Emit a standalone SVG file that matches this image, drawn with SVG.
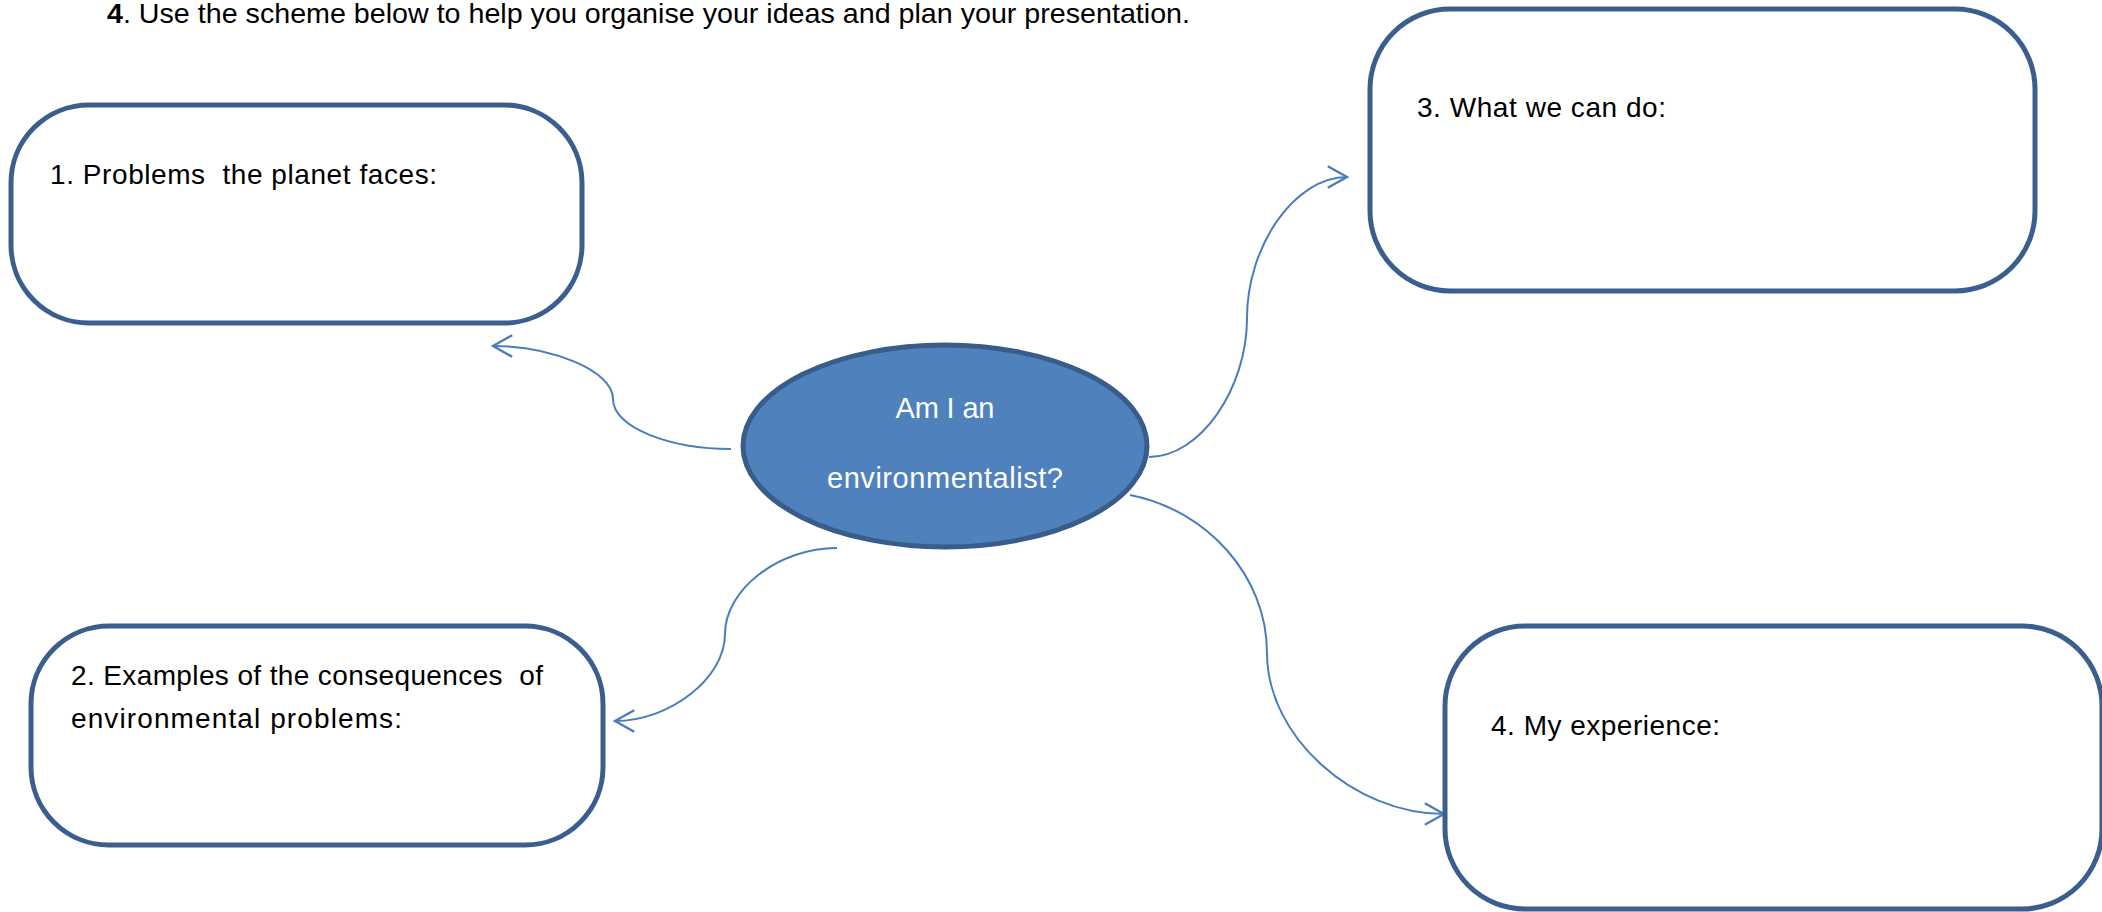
<svg xmlns="http://www.w3.org/2000/svg" width="2102" height="912" viewBox="0 0 2102 912">
<style>
.box{fill:#ffffff;stroke:#3A5F8E;stroke-width:5}
.lbl{font-family:"Liberation Sans",Arial,sans-serif;font-size:28px;fill:#000;white-space:pre}
.title{font-family:"Liberation Sans",Arial,sans-serif;font-size:28px;fill:#000}
.ctr{font-family:"Liberation Sans",Arial,sans-serif;font-size:29px;fill:#fff;text-anchor:middle}
.conn{fill:none;stroke:#4A7EBB;stroke-width:2;marker-end:url(#arr)}
</style>
<defs>
<marker id="arr" markerUnits="userSpaceOnUse" markerWidth="24" markerHeight="24" refX="18" refY="10" orient="auto" viewBox="0 0 20 20">
<path d="M2,1 L18,10 L2,19" fill="none" stroke="#4A7EBB" stroke-width="2"/>
</marker>
</defs>
<rect width="2102" height="912" fill="#ffffff"/>
<text class="title" x="107" y="23" textLength="1083" lengthAdjust="spacingAndGlyphs"><tspan font-weight="bold">4</tspan>. Use the scheme below to help you organise your ideas and plan your presentation.</text>
<g id="connectors">
<path class="conn" d="M731,449 C671,449 613,428 613,399 C613,370 550,346 493,346"/>
<path class="conn" d="M1149,457 C1200,457 1247,389 1247,318 C1247,247 1294,177 1347,177"/>
<path class="conn" d="M1130,495 C1207,510 1267,576 1267,653 C1267,737 1354,814 1444,814"/>
<path class="conn" d="M837,548 C778,548 725,590 725,634 C725,678 670,721 615,721"/>
</g>
<g id="node1">
<rect class="box" x="11" y="105" width="571" height="218" rx="78" ry="78"/>
<text class="lbl" x="50" y="184" textLength="387">1. Problems  the planet faces:</text>
</g>
<g id="node3">
<rect class="box" x="1370" y="9" width="665" height="282" rx="80" ry="80"/>
<text class="lbl" x="1417" y="117" textLength="249">3. What we can do:</text>
</g>
<g id="node2">
<rect class="box" x="31" y="626" width="572" height="219" rx="78" ry="78"/>
<text class="lbl" x="71" y="685" textLength="472">2. Examples of the consequences  of</text>
<text class="lbl" x="71" y="728" textLength="331">environmental problems:</text>
</g>
<g id="node4">
<rect class="box" x="1445" y="626" width="657" height="283" rx="80" ry="80"/>
<text class="lbl" x="1491" y="735" textLength="229">4. My experience:</text>
</g>
<g id="center">
<ellipse cx="945" cy="446" rx="202" ry="101" fill="#4F81BD" stroke="#385D8A" stroke-width="5"/>
<text class="ctr" x="945" y="418" textLength="99">Am I an</text>
<text class="ctr" x="945" y="488" textLength="236">environmentalist?</text>
</g>
</svg>
